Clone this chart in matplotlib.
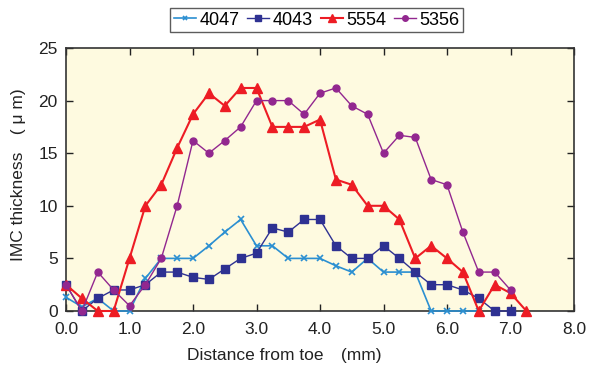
import matplotlib
matplotlib.use("Agg")
import matplotlib.pyplot as plt
import numpy as np

plt.rcParams['font.family'] = ['Liberation Sans', 'DejaVu Sans']

# distance from toe (mm), sampled every 0.25 mm
x_4047 = np.arange(0, 27) * 0.25
y_4047 = [1.3, 0.4, 1.2, 0.0, 0.0, 3.1, 5.0, 5.0, 5.0, 6.2, 7.5, 8.7,
          6.2, 6.2, 5.0, 5.0, 5.0, 4.3, 3.7, 5.0, 3.7, 3.7, 3.7, 0.0,
          0.0, 0.0, 0.0]

x_4043 = np.arange(0, 29) * 0.25
y_4043 = [2.5, 0.0, 1.2, 2.0, 2.0, 2.5, 3.7, 3.7, 3.2, 3.0, 4.0, 5.0,
          5.5, 7.9, 7.5, 8.7, 8.7, 6.2, 5.0, 5.0, 6.2, 5.0, 3.7, 2.5,
          2.5, 2.0, 1.2, 0.0, 0.0]

x_5554 = np.arange(0, 30) * 0.25
y_5554 = [2.5, 1.2, 0.0, 0.0, 5.0, 10.0, 12.0, 15.5, 18.7, 20.7, 19.5, 21.2,
          21.2, 17.5, 17.5, 17.5, 18.2, 12.5, 12.0, 10.0, 10.0, 8.7, 5.0, 6.2,
          5.0, 3.7, 0.0, 2.5, 1.7, 0.0]

x_5356 = np.arange(0, 29) * 0.25
y_5356 = [2.5, 0.0, 3.7, 2.0, 0.5, 2.5, 5.0, 10.0, 16.2, 15.0, 16.2, 17.5,
          20.0, 20.0, 20.0, 18.7, 20.7, 21.2, 19.5, 18.7, 15.0, 16.7, 16.5, 12.5,
          12.0, 7.5, 3.7, 3.7, 2.0]

fig = plt.figure(figsize=(5.89, 3.69), dpi=100)
ax = fig.add_axes([66 / 589, 1 - 311 / 369, 508 / 589, 263 / 369])
ax.set_facecolor('#fefae0')

ax.plot(x_4047, y_4047, color='#2b8fd1', lw=1.2, marker='x', ms=4, mew=1.2,
        label='4047', clip_on=False, zorder=3)
ax.plot(x_4043, y_4043, color='#2e3192', lw=1.0, marker='s', ms=5.5,
        label='4043', clip_on=False, zorder=3)
ax.plot(x_5554, y_5554, color='#ed1c24', lw=1.5, marker='^', ms=7,
        label='5554', clip_on=False, zorder=3)
ax.plot(x_5356, y_5356, color='#92278f', lw=1.0, marker='o', ms=5,
        label='5356', clip_on=False, zorder=3)

ax.set_xlim(0, 8)
ax.set_ylim(0, 25)
ax.set_xticks(np.arange(0, 9))
ax.set_xticklabels(['%.1f' % v for v in np.arange(0, 9)])
ax.set_yticks([0, 5, 10, 15, 20, 25])
ax.tick_params(direction='in', top=True, right=True, labelsize=12.5,
               length=5, width=1, colors='#222222')
ax.tick_params(axis='x', pad=8)
ax.tick_params(axis='y', pad=6)
for s in ax.spines.values():
    s.set_color('#333333')
    s.set_linewidth(1.2)

ax.set_xlabel('Distance from toe\u3000(mm)', fontsize=12.5, color='#222222',
              family=['Liberation Sans', 'Noto Sans CJK JP'], va='center')
ax.set_ylabel('IMC thickness\u3000( \u03bc m)', fontsize=12.5, color='#222222',
              family=['Liberation Sans', 'Noto Sans CJK JP'], va='center')
ax.xaxis.set_label_coords(0.43, -0.171)
ax.yaxis.set_label_coords(-0.094, 0.52)

leg = fig.legend(loc='upper center', bbox_to_anchor=(0.538, 0.978), ncol=4,
                 fontsize=13, frameon=True, fancybox=False, handlelength=1.2,
                 handletextpad=0.2, columnspacing=0.45, borderpad=0.2,
                 borderaxespad=0, markerscale=0.8)
leg.get_frame().set_edgecolor('#333333')
leg.get_frame().set_linewidth(1.0)

fig.savefig('out.png', dpi=100)
